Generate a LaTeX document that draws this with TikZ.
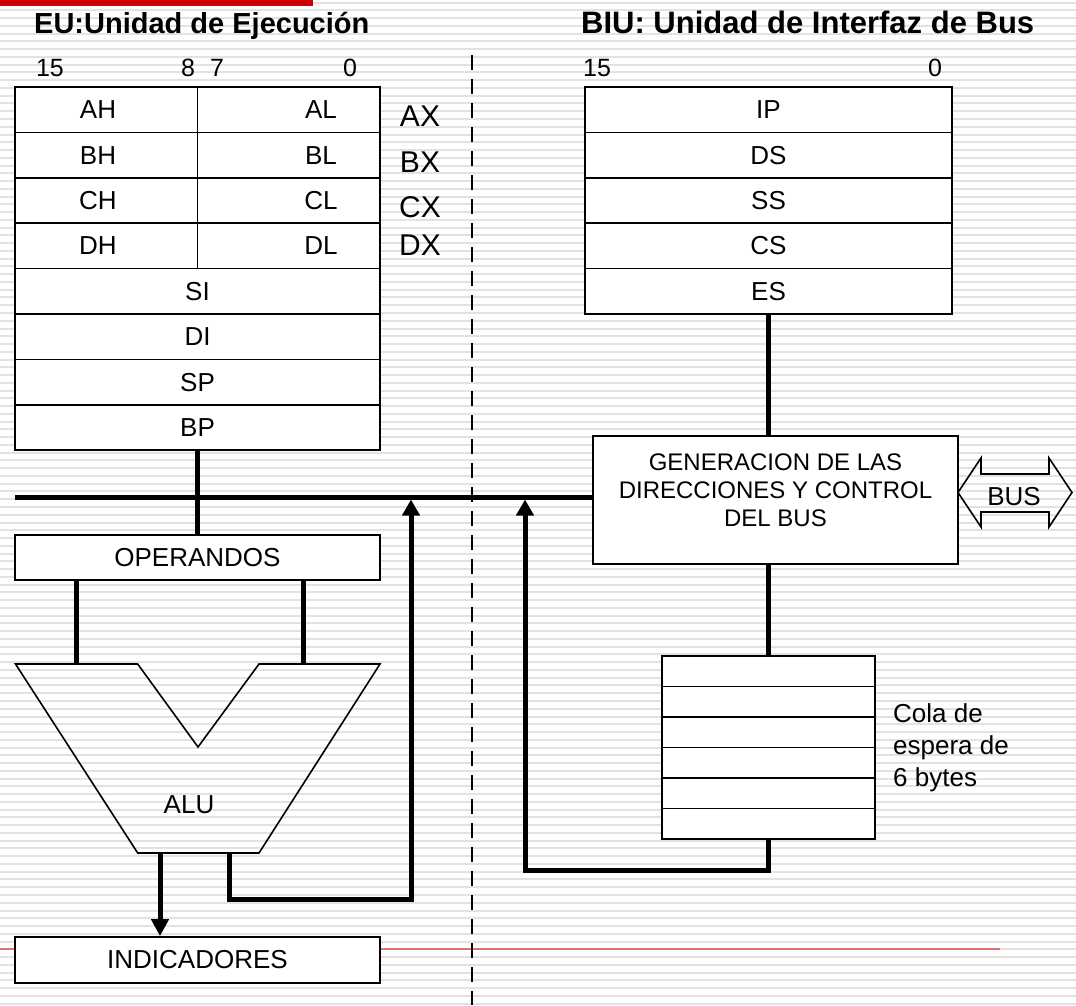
\documentclass[tikz,border=0pt]{standalone}
\usepackage{fontspec}
\setmainfont{Liberation Sans}
\usetikzlibrary{arrows.meta}

\definecolor{barred}{RGB}{204,0,0}
\definecolor{rulered}{RGB}{218,115,115}
\definecolor{stripegray}{RGB}{226,226,226}

\begin{document}
\begin{tikzpicture}[x=1pt, y=-1pt,
    every node/.style={font=\fontsize{26}{30}\selectfont, inner sep=0pt},
    boxline/.style={line width=1.6pt},
    reg/.style={draw, boxline, fill=white, minimum height=45.4pt},
    bus/.style={line width=5pt},
    up arrow/.style={bus, shorten >=2.5pt, -{Triangle[length=16pt, width=17pt]}}]
    \useasboundingbox (0,0) rectangle (1076,1005);
    \fill[white] (0,0) rectangle (1076,1005);
    \foreach \k in {0,...,129}
        \draw[stripegray, line width=2pt] (0,{2.6+7.76*\k}) -- (1076,{2.6+7.76*\k});
    \fill[barred] (0,0) rectangle (313,5.5);
    \draw[rulered, line width=2pt] (0,949.3) -- (1000,949.3);

    % titulos
    \node[anchor=base west, font=\bfseries\fontsize{29}{34}\selectfont] (eutitle) at (34,33) {EU:Unidad de Ejecución};
    \node[anchor=base west, font=\bfseries\fontsize{31}{34}\selectfont] (biutitle) at (581,33) {BIU: Unidad de Interfaz de Bus};
    \foreach \n/\x in {15/50, 8/188, 7/217, 0/350, 15/597, 0/935}
        \node[anchor=base, font=\fontsize{25}{30}\selectfont] (bit\x) at (\x,76) {\n};

    \draw[line width=1.5pt, dash pattern=on 15pt off 9pt] (472,55) -- (472,1005);

    % registros generales
    \foreach \h/\l/\w/\yw [count=\i] in {AH/AL/AX/116, BH/BL/BX/162, CH/CL/CX/207, DH/DL/DX/245} {
        \node[reg, minimum width=365pt] (\w) at (197.5,{87+45.4*(\i-0.5)}) {};
        \node (\h) at (98,{87+45.4*(\i-0.5)}) {\h};
        \node (\l) at (321,{87+45.4*(\i-0.5)}) {\l};
        \node[font=\fontsize{30}{34}\selectfont] (lbl\w) at (420,\yw) {\w};
    }
    \draw[boxline] (AX.north) -- (DX.south);
    \foreach \r [count=\i from 5] in {SI,DI,SP,BP}
        \node[reg, minimum width=365pt] (\r) at (197.5,{87+45.4*(\i-0.5)}) {\r};

    % registros de segmento
    \foreach \r [count=\i] in {IP,DS,SS,CS,ES}
        \node[reg, minimum width=367pt] (\r) at (768.5,{87+45.4*(\i-0.5)}) {\r};

    \node[draw, boxline, fill=white, minimum width=365pt, minimum height=128pt] (gen) at (775.5,500) {};
    \node[align=center, font=\fontsize{24}{28}\selectfont] (gentext) at ([yshift=9.5pt]gen.center) {GENERACION DE LAS\\DIRECCIONES Y CONTROL\\DEL BUS};
    \draw[boxline] (958,492.5) -- (981,458) -- (981,474) -- (1049,474) -- (1049,458) -- (1072,492.5)
        -- (1049,527) -- (1049,512) -- (981,512) -- (981,527) -- cycle;
    \node (bus) at (1014,497) {BUS};

    % bus interno
    \coordinate (busL) at (15,497);
    \node[reg, minimum width=365pt] (oper) at (197.5,557.5) {OPERANDOS};
    \draw[bus] (busL) -- (busL -| gen.west);
    \draw[bus] (BP.south) -- (oper.north);
    \draw[bus] (ES.south) -- (ES.south |- gen.north);

    % ALU
    \coordinate (inA) at (76,664);
    \coordinate (inB) at (303,664);
    \draw[boxline] (15.5,664) -- (137.7,664) -- (198,747) -- (259,664) -- (380,664) -- (259,853) -- (137.7,853) -- cycle;
    \node (alu) at (189,805) {ALU};
    \draw[bus] (oper.south -| inA) -- (inA);
    \draw[bus] (oper.south -| inB) -- (inB);

    \coordinate (outA) at (160,853);
    \coordinate (outB) at (229,853);
    \coordinate (retL) at (411,899);
    \coordinate (retR) at (525,870);
    \node[reg, minimum width=365pt, minimum height=46pt] (ind) at (197.5,960) {INDICADORES};
    \draw[bus, -{Triangle[length=17pt, width=17pt]}] (outA) -- (outA |- ind.north);
    \draw[up arrow] (outB) |- (retL) -- (retL |- busL);

    % cola de instrucciones
    \foreach \i in {1,...,6}
        \node[draw, boxline, fill=white, minimum width=213pt, minimum height=30.5pt] (q\i) at (768.5,{656+30.5*(\i-0.5)}) {};
    \node[anchor=north west, align=left, font=\fontsize{26}{32}\selectfont] (cola) at (893,703) {Cola de\\espera de\\6 bytes};
    \draw[bus] (gen.south -| q1.north) -- (q1.north);
    \draw[up arrow] (q6.south) |- (retR) -- (retR |- busL);
\end{tikzpicture}
\end{document}
